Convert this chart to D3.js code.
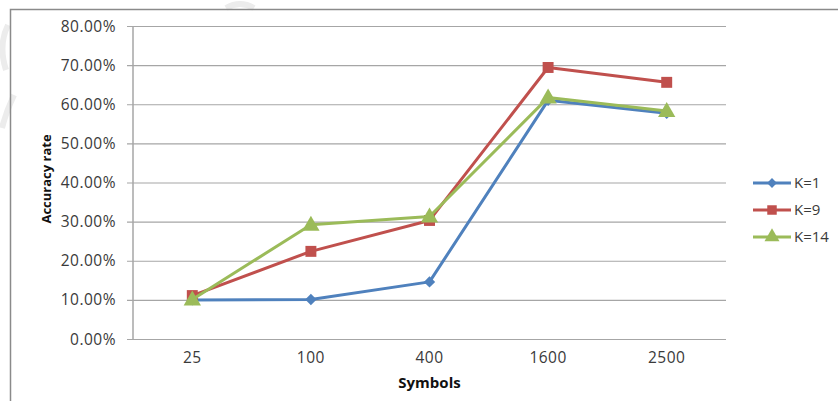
<!DOCTYPE html>
<html>
<head>
<meta charset="utf-8">
<script src="https://cdn.jsdelivr.net/npm/d3@7"></script>
<style>
  html, body { margin: 0; padding: 0; background: #fff; }
  svg { display: block; }
</style>
</head>
<body>
<svg id="chart" width="838" height="401"></svg>
<script>
// Symbol counts on the x axis
const symbols = ["25", "100", "400", "1600", "2500"];
// Accuracy rate (%) for each K
const k1  = [10.0, 10.1, 14.6, 61.0, 57.7];
const k9  = [11.1, 22.4, 30.3, 69.4, 65.6];
const k14 = [10.1, 29.2, 31.3, 61.7, 58.3];
const seriesNames = ["K=1", "K=9", "K=14"];
const yTicks = [0, 10, 20, 30, 40, 50, 60, 70, 80];

const colors = ["#4F81BD", "#C0504D", "#9BBB59"];
// K=1 uses a square turned 45 degrees as its diamond marker
const shapes = [d3.symbolSquare, d3.symbolSquare, d3.symbolTriangle];
const rotations = [45, 0, 0];
const sizes = [64, 120, 130];
const series = [k1, k9, k14].map((vals, i) => ({ name: seriesNames[i], vals, color: colors[i], shape: shapes[i], rot: rotations[i], size: sizes[i] }));

const svg = d3.select("#chart");
const plot = { left: 133, right: 726, top: 26, bottom: 339 };
const font = "'Open Sans', sans-serif";

// faint watermark strokes near the frame
const wm = svg.append("g").attr("fill", "none").attr("stroke", "#ececec").attr("stroke-width", 6);
wm.append("path").attr("d", "M8,25 Q-2,45 6,70");
wm.append("path").attr("d", "M14,95 Q6,112 2,128");
wm.append("path").attr("d", "M226,8 Q240,0 254,8");

// chart frame
svg.append("path")
  .attr("d", "M10.5,401 L10.5,9.5 L838,9.5")
  .attr("fill", "none").attr("stroke", "#8a8a8a").attr("stroke-width", 1.5);

const x = d3.scaleBand().domain(symbols).range([plot.left, plot.right]);
const y = d3.scaleLinear().domain([0, 80]).range([plot.bottom, plot.top]);

// horizontal gridlines with short outer ticks
const gy = svg.append("g").attr("transform", `translate(${plot.right},0)`);
gy.call(d3.axisLeft(y).tickValues(yTicks).tickSize(plot.right - plot.left + 6).tickFormat(""));
gy.select(".domain").remove();
gy.selectAll(".tick line").attr("stroke", "#a6a6a6").attr("stroke-width", 1.2);

// y tick labels
svg.append("g").selectAll("text").data(yTicks).join("text")
  .attr("x", 116).attr("y", d => y(d)).attr("dy", "0.36em")
  .attr("text-anchor", "end")
  .attr("font-family", font).attr("font-size", 15.5)
  .attr("letter-spacing", 0.5)
  .attr("fill", "#3a3a3a")
  .text(d => d.toFixed(2) + "%");

// vertical axis line
svg.append("line")
  .attr("x1", plot.left).attr("x2", plot.left)
  .attr("y1", plot.top).attr("y2", plot.bottom)
  .attr("stroke", "#a6a6a6").attr("stroke-width", 1.5);

// x category labels
const gx = svg.append("g").attr("transform", `translate(0,${plot.bottom})`)
  .call(d3.axisBottom(x).tickSize(0).tickPadding(13));
gx.select(".domain").remove();
gx.selectAll("text")
  .attr("font-family", font).attr("font-size", 15.5)
  .attr("letter-spacing", 0.5)
  .attr("fill", "#3a3a3a");

// axis titles
svg.append("text")
  .attr("x", (plot.left + plot.right) / 2).attr("y", 388)
  .attr("text-anchor", "middle")
  .attr("font-family", font).attr("font-size", 15).attr("font-weight", "bold")
  .attr("fill", "#111")
  .text("Symbols");
svg.append("text")
  .attr("transform", "translate(51,179) rotate(-90)")
  .attr("text-anchor", "middle")
  .attr("font-family", font).attr("font-size", 13).attr("font-weight", "bold")
  .attr("fill", "#111")
  .text("Accuracy rate");

// series lines and markers
const cx = s => x(s) + x.bandwidth() / 2;
const line = d3.line().x((d, i) => cx(symbols[i])).y(d => y(d));
series.forEach(s => {
  const g = svg.append("g");
  g.append("path").datum(s.vals)
    .attr("d", line).attr("fill", "none")
    .attr("stroke", s.color).attr("stroke-width", 3).attr("stroke-linejoin", "round");
  g.selectAll("path.m").data(s.vals).join("path").attr("class", "m")
    .attr("d", d3.symbol().type(s.shape).size(s.size))
    .attr("transform", (d, i) => `translate(${cx(symbols[i])},${y(d) + (s.shape === d3.symbolTriangle ? 1 : 0)}) rotate(${s.rot})`)
    .attr("fill", s.color);
});

// legend
const lg = svg.append("g");
series.forEach((s, i) => {
  const ly = 183 + i * 27;
  lg.append("line").attr("x1", 753).attr("x2", 791).attr("y1", ly).attr("y2", ly)
    .attr("stroke", s.color).attr("stroke-width", 3);
  lg.append("path").attr("d", d3.symbol().type(s.shape).size(s.size * 0.75)())
    .attr("transform", `translate(772,${ly}) rotate(${s.rot})`).attr("fill", s.color);
  lg.append("text").attr("x", 794).attr("y", ly).attr("dy", "0.36em")
    .attr("font-family", font).attr("font-size", 15)
    .attr("fill", "#3a3a3a").text(s.name);
});
</script>
</body>
</html>
